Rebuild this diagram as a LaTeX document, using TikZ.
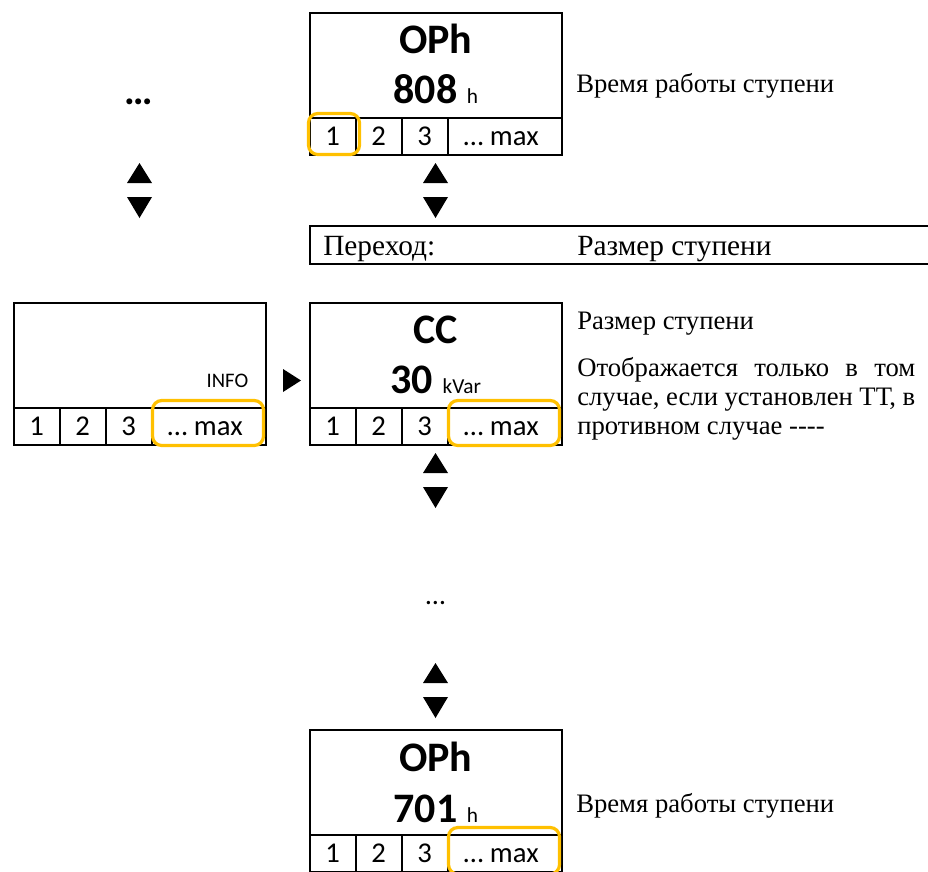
\documentclass[tikz,border=0pt]{standalone}
\usepackage{fontspec}
\setmainfont{Liberation Serif}
\newfontfamily\calfont{Carlito}
\definecolor{hlgold}{HTML}{FFC000}
\tikzset{
  ln/.style={line width=1.5pt, black},
  scr/.style={draw, line width=1.5pt, minimum width=189pt, minimum height=106.5pt, inner sep=0pt},
  hl/.style={draw=hlgold, line width=2.4pt, rounded corners=7pt},
  cellt/.style={font=\calfont\fontsize{21.5}{24}\selectfont, anchor=base, inner sep=0pt},
  scrtitle/.style={font=\calfont\bfseries\fontsize{31.5}{36}\selectfont, anchor=base, inner sep=0pt},
  scrval/.style={font=\calfont\bfseries\fontsize{31.5}{36}\selectfont, anchor=base, inner sep=0pt},
  desc/.style={font=\fontsize{20}{24}\selectfont, anchor=base west, inner sep=0pt},
  bardesc/.style={font=\fontsize{22}{26}\selectfont, anchor=base west, inner sep=0pt},
  tri/.style={fill=black},
}
\newcommand\unitsz{\mdseries\fontsize{16}{19}\selectfont}
\newcommand\screenbox[3]{%
  \begin{scope}[shift={(#2,#3)}]
    \node[scr] (#1) at (126,71) {};
    \draw[ln] (0,105) -- (252,105);
    \draw[ln] (46,105) -- (46,142);
    \draw[ln] (92,105) -- (92,142);
    \draw[ln] (138,105) -- (138,142);
    \node[cellt] (#1-1) at (23,133) {1};
    \node[cellt] (#1-2) at (69,133) {2};
    \node[cellt] (#1-3) at (115,133) {3};
    \node[cellt] (#1-m) at (191.5,133) {… max};
  \end{scope}}
\newcommand\updown[3]{%
  \fill[tri] ({#2-12.5},{#3+20}) -- (#2,#3) -- ({#2+12.5},{#3+20}) -- cycle;
  \fill[tri] ({#2-12.5},{#3+34}) -- ({#2+12.5},{#3+34}) -- (#2,{#3+55}) -- cycle;
  \coordinate (#1) at (#2,{#3+27});}
\begin{document}
\begin{tikzpicture}[x=0.75pt,y=-0.75pt]
\useasboundingbox (0,0) rectangle (928,871);
% top screen
\screenbox{s1}{309.75}{12.75}
\node[scrtitle] (s1t) at (435.75,53.5) {OPh};
\node[scrval] (s1v) at (435.75,103.5) {808 {\unitsz h}};
\draw[hl] (308.5,113.5) rectangle (359.5,154.5);
% left screen
\screenbox{s0}{13.75}{302.75}
\node[font=\calfont\fontsize{15.5}{18}\selectfont, anchor=base east, inner sep=0pt] (info) at (248.5,387.5) {INFO};
\draw[hl] (152.5,400.5) rectangle (263.5,445.5);
% middle screen
\screenbox{s2}{309.75}{302.75}
\node[scrtitle] (s2t) at (435.75,343.5) {CC};
\node[scrval] (s2v) at (435.75,393.5) {30 {\unitsz kVar}};
\draw[hl] (448.5,400.5) rectangle (559.5,445.5);
% bottom screen
\screenbox{s3}{309.75}{729.75}
\node[scrtitle] (s3t) at (435.75,771.5) {OPh};
\node[scrval] (s3v) at (435.75,822.5) {701 {\unitsz h}};
\draw[hl] (448.5,827.5) rectangle (559.5,874);
% right arrow
\fill[tri] (283,369) -- (301,380.5) -- (283,392) -- cycle;
% up/down arrows
\updown{ud0}{139.5}{163}
\updown{ud1}{435.5}{163}
\updown{ud2}{435.5}{453}
\updown{ud3}{435.5}{663}
% dots
\node[font=\calfont\bfseries\fontsize{30}{36}\selectfont, anchor=base, inner sep=0pt] (dots0) at (138.5,104.5) {…};
\node[font=\calfont\fontsize{21}{24}\selectfont, anchor=base, inner sep=0pt] (dots1) at (435.5,604) {…};
% transition bar
\draw[ln] (928,226) -- (309.75,226) -- (309.75,264) -- (928,264);
\node[bardesc] (p1) at (323,255) {Переход:};
\node[bardesc] (p2) at (577,255) {Размер ступени};
% descriptions
\node[desc] (d1) at (576,92) {Время работы ступени};
\node[desc] (d3) at (576,812) {Время работы ступени};
\node[desc] (r1) at (577,329) {Размер ступени};
\node[desc] (r2) at (577,376) {\makebox[253.5pt][s]{Отображается только в том}};
\node[desc] (r3) at (577,405) {\makebox[253.5pt][s]{случае, если установлен ТТ, в}};
\node[desc] (r4) at (577,434) {противном случае -\kern0pt-\kern0pt-\kern0pt-};
\end{tikzpicture}
\end{document}
